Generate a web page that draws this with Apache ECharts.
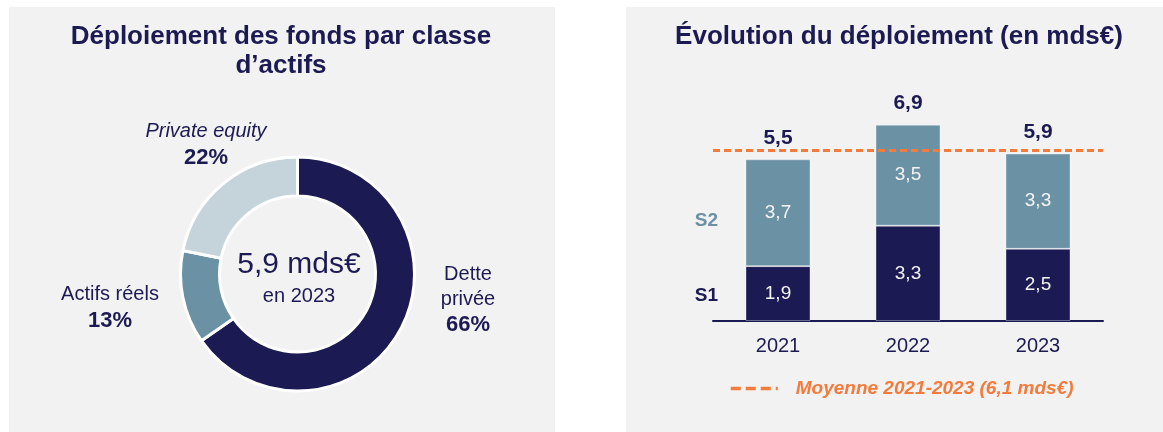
<!DOCTYPE html>
<html>
<head>
<meta charset="utf-8">
<script src="https://cdn.jsdelivr.net/npm/echarts@6/dist/echarts.min.js"></script>
<style>
  html, body { margin: 0; padding: 0; background: #fff; width: 1163px; height: 432px; overflow: hidden; }
  .panel { position: absolute; background: #f2f2f2; }
  #mix { left: 9px; top: 7px; width: 546px; height: 425px; }
  #evol { left: 626px; top: 7px; width: 537px; height: 425px; }
</style>
</head>
<body>
<div id="mix" class="panel"></div>
<div id="evol" class="panel"></div>
<script>
// données - répartition 2023
const classNames = ['Dette\nprivée', 'Actifs réels', 'Private equity'];
const classShares = [66, 13, 22];
const classPctLabels = ['66%', '13%', '22%'];
const totalText = '5,9 mds€';
const totalYear = 'en 2023';

// données - évolution
const years = ['2021', '2022', '2023'];
const seriesNames = ['S1', 'S2'];
const s1Values = [1.9, 3.3, 2.5];
const s2Values = [3.7, 3.5, 3.3];
const yearTotals = [5.5, 6.9, 5.9];
const avgLineLevel = 5.9;
const avgLegend = 'Moyenne 2021-2023 (6,1 mds€)';

const FONT = '"Liberation Sans", Arial, sans-serif';
const NAVY = '#1c1a52';
const MID = '#6b91a5';
const LIGHT = '#c5d4db';
const ORANGE = '#f47b3b';

// positions des étiquettes du donut (dans le panneau)
const pieLabelPos = [[459, 293], [101, 301], [197, 138]];
const pieNameStyle = ['n', 'n', 'i'];

const mix = echarts.init(document.getElementById('mix'));
mix.setOption({
  backgroundColor: '#f2f2f2',
  textStyle: { fontFamily: FONT },
  graphic: [
    {
      type: 'text', x: 272, y: 44, silent: true,
      style: {
        text: 'Déploiement des fonds par classe\nd’actifs',
        font: 'bold 26px ' + FONT, lineHeight: 29,
        fill: NAVY, align: 'center', verticalAlign: 'middle'
      }
    },
    {
      type: 'text', x: 290, y: 258, silent: true,
      style: { text: totalText, font: '30px ' + FONT, fill: NAVY, align: 'center', verticalAlign: 'middle' }
    },
    {
      type: 'text', x: 290, y: 289, silent: true,
      style: { text: totalYear, font: '20px ' + FONT, fill: NAVY, align: 'center', verticalAlign: 'middle' }
    }
  ],
  series: [{
    type: 'pie',
    center: [288.5, 267],
    radius: [78, 117],
    startAngle: 90,
    clockwise: true,
    silent: true,
    itemStyle: { borderColor: '#fff', borderWidth: 3 },
    labelLine: { show: false },
    label: {
      show: true,
      formatter: p => '{' + pieNameStyle[p.dataIndex] + '|' + classNames[p.dataIndex] + '}\n{p|' + classPctLabels[p.dataIndex] + '}',
      rich: {
        n: { fontSize: 20, lineHeight: 25, color: NAVY, fontFamily: FONT, align: 'center' },
        i: { fontSize: 20, lineHeight: 25, color: NAVY, fontFamily: FONT, fontStyle: 'italic', align: 'center' },
        p: { fontSize: 22, lineHeight: 27, color: NAVY, fontFamily: FONT, fontWeight: 'bold', align: 'center' }
      }
    },
    labelLayout: params => ({
      x: pieLabelPos[params.dataIndex][0],
      y: pieLabelPos[params.dataIndex][1],
      align: 'center',
      verticalAlign: 'middle'
    }),
    data: classShares.map((v, i) => ({
      value: v,
      name: classNames[i],
      itemStyle: { color: [NAVY, MID, LIGHT][i] }
    }))
  }]
});

const evol = echarts.init(document.getElementById('evol'));
const innerLabel = { show: true, position: 'inside', color: '#f4f4f4', fontSize: 19, fontFamily: FONT, formatter: p => String(p.value).replace('.', ',') };
evol.setOption({
  backgroundColor: '#f2f2f2',
  textStyle: { fontFamily: FONT },
  graphic: [
    {
      type: 'text', x: 273, y: 30, silent: true,
      style: { text: 'Évolution du déploiement (en mds€)', font: 'bold 26px ' + FONT, fill: NAVY, align: 'center', verticalAlign: 'middle' }
    },
    {
      type: 'text', x: 92, y: 214, silent: true,
      style: { text: seriesNames[1], font: 'bold 19px ' + FONT, fill: MID, align: 'right', verticalAlign: 'middle' }
    },
    {
      type: 'text', x: 92, y: 289, silent: true,
      style: { text: seriesNames[0], font: 'bold 19px ' + FONT, fill: NAVY, align: 'right', verticalAlign: 'middle' }
    }
  ],
  legend: {
    left: 103,
    top: 372,
    padding: 0,
    itemWidth: 47,
    itemHeight: 14,
    data: [avgLegend],
    itemStyle: { opacity: 0 },
    lineStyle: { color: ORANGE, width: 3.5, type: [10, 5] },
    textStyle: { color: ORANGE, fontSize: 19, fontWeight: 'bold', fontStyle: 'italic', fontFamily: FONT, padding: [0, 0, 0, 13] }
  },
  grid: { left: 87, width: 390, top: 83, height: 231 },
  xAxis: {
    type: 'category',
    data: years,
    axisLine: { lineStyle: { color: NAVY, width: 2 } },
    axisTick: { show: false },
    axisLabel: { color: NAVY, fontSize: 20, margin: 15, fontFamily: FONT }
  },
  yAxis: { type: 'value', min: 0, max: 8, show: false, splitLine: { show: false } },
  series: [
    {
      name: seriesNames[0], type: 'bar', stack: 'tot', barWidth: 65, data: s1Values,
      itemStyle: { color: NAVY, borderColor: 'rgba(255,255,255,0.35)', borderWidth: 1 },
      label: innerLabel,
      silent: true,
      markLine: {
        silent: true, symbol: 'none',
        label: { show: false },
        lineStyle: { color: ORANGE, type: [7, 4], width: 3 },
        data: [{ yAxis: avgLineLevel }]
      }
    },
    {
      name: seriesNames[1], type: 'bar', stack: 'tot', barWidth: 65, data: s2Values,
      itemStyle: { color: MID, borderColor: 'rgba(255,255,255,0.35)', borderWidth: 1 },
      label: innerLabel,
      silent: true
    },
    {
      name: 'total', type: 'bar', stack: 'tot', barWidth: 65, data: [0, 0, 0],
      itemStyle: { color: 'transparent' },
      silent: true,
      label: {
        show: true, position: 'top', distance: 11,
        color: NAVY, fontSize: 21, fontWeight: 'bold', fontFamily: FONT,
        formatter: p => String(yearTotals[p.dataIndex]).replace('.', ',')
      }
    },
    {
      name: avgLegend, type: 'line', data: [], symbol: 'none',
      lineStyle: { color: ORANGE, type: [10, 5], width: 3.5 },
      itemStyle: { color: ORANGE }
    }
  ]
});
</script>
</body>
</html>
